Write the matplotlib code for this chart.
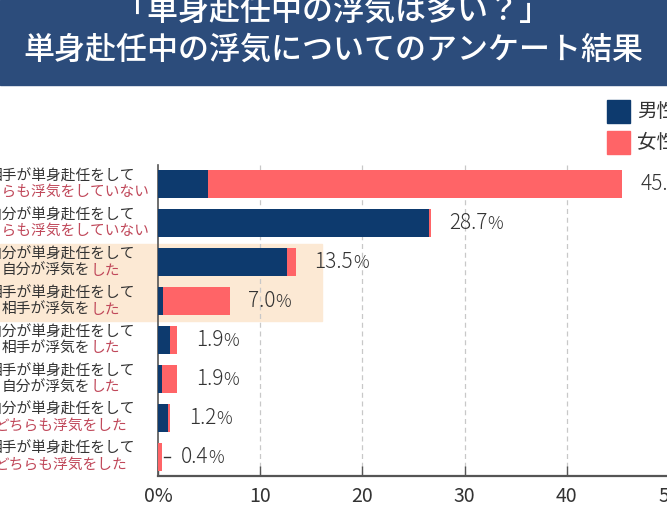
import matplotlib
matplotlib.use("Agg")
import matplotlib.pyplot as plt
import matplotlib.transforms as mtransforms
from matplotlib.patches import Rectangle
from matplotlib.offsetbox import TextArea, HPacker, AnnotationBbox

plt.rcParams['font.family'] = ['Noto Sans CJK JP', 'DejaVu Sans']

# Data
line1 = ['相手が単身赴任をして', '自分が単身赴任をして', '自分が単身赴任をして', '相手が単身赴任をして',
         '自分が単身赴任をして', '相手が単身赴任をして', '自分が単身赴任をして', '相手が単身赴任をして']
line2_plain = ['', '', '自分が浮気を', '相手が浮気を', '相手が浮気を', '自分が浮気を', '', '']
line2_red = ['どちらも浮気をしていない', 'どちらも浮気をしていない', 'した', 'した',
             'した', 'した', 'どちらも浮気をした', 'どちらも浮気をした']
male = [4.9, 26.5, 12.6, 0.5, 1.2, 0.4, 1.0, 0.0]
female = [40.5, 0.2, 0.9, 6.5, 0.7, 1.5, 0.2, 0.4]
totals = ['45.4', '28.7', '13.5', '7.0', '1.9', '1.9', '1.2', '0.4']
highlight_rows = [2, 3]
xticks = [0, 10, 20, 30, 40, 50]
xticklabels = ['0%', '10', '20', '30', '40', '50']

navy = '#0d3a6e'
pink = '#ff6467'
banner = '#2c4c7b'
gray = '#333333'
red = '#c0485a'

fig = plt.figure(figsize=(6.67, 5.2), dpi=100)
ax = fig.add_axes([158 / 667, 1 - 476 / 520, 511 / 667, 311 / 520])
ax.patch.set_alpha(0)

# title banner
fig.patches.append(Rectangle((0, 1 - 85 / 520), 1, 85 / 520, transform=fig.transFigure,
                             color=banner, zorder=-2))
fig.text(0.5, 1 - 11 / 520, '「単身赴任中の浮気は多い？」', color='white', fontsize=22.3,
         fontweight='medium', ha='center', va='center')
fig.text(0.5, 1 - 50 / 520, '単身赴任中の浮気についてのアンケート結果', color='white', fontsize=22.3,
         fontweight='medium', ha='center', va='center')

rows = list(range(len(male)))

# highlight band behind rows
blend = mtransforms.blended_transform_factory(fig.transFigure, ax.transData)
r0, r1 = min(highlight_rows), max(highlight_rows)
fig.patches.append(Rectangle((0, r0 - 0.48), 322 / 667, (r1 - r0) + 0.52 + 0.48, transform=blend,
                             color='#fce9d4', zorder=-1))

ax.barh(rows, male, height=0.72, color=navy, zorder=3)
ax.barh(rows, female, left=male, height=0.72, color=pink, zorder=3)

ax.set_xlim(0, 50)
ax.set_ylim(len(rows) - 0.5, -0.5)
ax.set_yticks([])
ax.set_xticks(xticks)
ax.set_xticklabels(xticklabels, fontsize=14, color=gray)
ax.tick_params(axis='x', direction='in', length=7, width=1, color='#555555', pad=7)
for x in xticks[1:-1]:
    ax.axvline(x, color='#c8c8c8', lw=0.9, ls=(0, (4, 3)), zorder=1)
for s in ['top', 'right']:
    ax.spines[s].set_visible(False)
ax.spines['left'].set_color('#555555')
ax.spines['bottom'].set_color('#555555')
ax.spines['left'].set_linewidth(1.2)
ax.spines['bottom'].set_linewidth(1.6)

# category labels
for i in rows:
    fig.text(61 / 667, i - 0.2, line1[i], transform=blend, fontsize=10.6, color=gray,
             ha='center', va='center')
    parts = []
    if line2_plain[i]:
        parts.append(TextArea(line2_plain[i], textprops=dict(fontsize=10.6, color=gray)))
    parts.append(TextArea(line2_red[i], textprops=dict(fontsize=10.6, color=red)))
    box = HPacker(children=parts, pad=0, sep=0, align='baseline')
    ab = AnnotationBbox(box, (61 / 667, i + 0.22), xycoords=blend, frameon=False,
                        box_alignment=(0.5, 0.5), pad=0)
    fig.add_artist(ab)

# value labels
for i in rows:
    end = male[i] + female[i]
    gap = 1.8
    if end < 0.6:
        ax.plot([end + 0.15, end + 0.8], [i, i], color=gray, lw=1)
    box = HPacker(children=[TextArea(totals[i], textprops=dict(fontsize=15, color=gray,
                                                               fontweight='light')),
                            TextArea('%', textprops=dict(fontsize=12.5, color=gray,
                                                         fontweight='light'))],
                  pad=0, sep=0, align='baseline')
    ab = AnnotationBbox(box, (end + gap, i), xycoords='data', frameon=False,
                        box_alignment=(0, 0.5), pad=0, annotation_clip=False)
    ax.add_artist(ab)

# legend
for k, (c, name) in enumerate([(navy, '男性'), (pink, '女性')]):
    y0 = 1 - (100 + k * 31) / 520
    fig.patches.append(Rectangle((607 / 667, y0 - 23 / 520), 23 / 667, 23 / 520,
                                 transform=fig.transFigure, color=c))
    fig.text(637 / 667, y0 - 11.5 / 520, name, fontsize=14, color=gray, va='center')

fig.savefig('out.png', dpi=100)
